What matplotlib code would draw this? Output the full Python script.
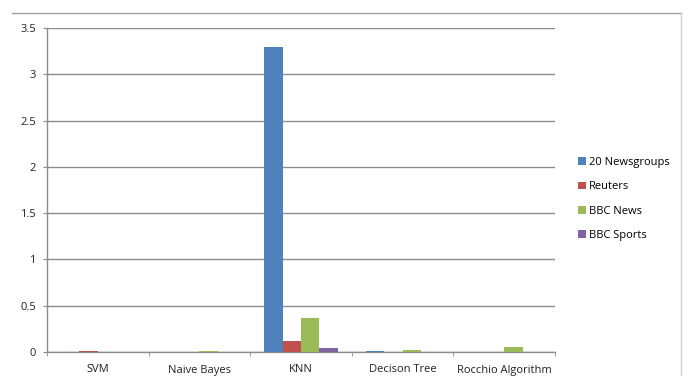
"""Runtime comparison of text classifiers across datasets."""

import matplotlib.pyplot as plt
import numpy as np
from matplotlib.lines import Line2D

algorithms = ["SVM", "Naive Bayes", "KNN", "Decison Tree", "Rocchio Algorithm"]
datasets = ["20 Newsgroups", "Reuters", "BBC News", "BBC Sports"]

newsgroups = [0.0, 0.0, 3.29, 0.012, 0.0]
reuters = [0.015, 0.0, 0.12, 0.0, 0.0]
bbc_news = [0.0, 0.012, 0.37, 0.025, 0.05]
bbc_sports = [0.0, 0.0, 0.04, 0.0, 0.0]

colors = ["#4F81BD", "#C0504D", "#9BBB59", "#8064A2"]
yticks = [0, 0.5, 1, 1.5, 2, 2.5, 3, 3.5]

plt.rcParams["font.family"] = ["Open Sans", "DejaVu Sans"]

fig = plt.figure(figsize=(6.94, 3.76), dpi=100)
ax = fig.add_axes([47 / 694, 1 - 352 / 376, 508 / 694, 324 / 376])

x = np.arange(len(algorithms))
w = 1 / 5.5
series = [newsgroups, reuters, bbc_news, bbc_sports]
for i, (vals, col, name) in enumerate(zip(series, colors, datasets)):
    ax.bar(x + (i - 1.5) * w, vals, width=w, color=col, label=name,
           edgecolor="none", zorder=3)

ax.set_xlim(-0.5, len(algorithms) - 0.5)
ax.set_ylim(0, 3.5)
ax.set_yticks(yticks)
ax.set_yticklabels([f"{t:g}" for t in yticks], fontsize=8, color="#222222")
ax.yaxis.grid(True, color="#8c8c8c", linewidth=1, zorder=0)
ax.tick_params(axis="y", length=3, color="#8c8c8c", pad=5)

# category labels centred, tick marks on the boundaries
ax.set_xticks(x)
ax.set_xticklabels(algorithms, fontsize=8, color="#222222")
ax.tick_params(axis="x", length=0, pad=9)
ax.set_xticks(np.arange(-0.5, len(algorithms)), minor=True)
ax.tick_params(axis="x", which="minor", length=3, color="#8c8c8c")

for side in ["top", "right"]:
    ax.spines[side].set_visible(False)
for side in ["left", "bottom"]:
    ax.spines[side].set_color("#8c8c8c")
    ax.spines[side].set_linewidth(1)

fig.legend(loc="center left", bbox_to_anchor=(568 / 694, 1 - 199 / 376),
           frameon=False, fontsize=8, handlelength=0.7, handleheight=0.7,
           handletextpad=0.3, labelspacing=1.2)

# chart area border (top and right edges)
fig.add_artist(Line2D([12 / 694, 681 / 694], [1 - 13 / 376, 1 - 13 / 376],
                      transform=fig.transFigure, color="#a0a0a0", linewidth=1))
fig.add_artist(Line2D([681 / 694, 681 / 694], [1 - 13 / 376, 0],
                      transform=fig.transFigure, color="#d0d0d0", linewidth=1))

fig.savefig("out.png", dpi=100)
